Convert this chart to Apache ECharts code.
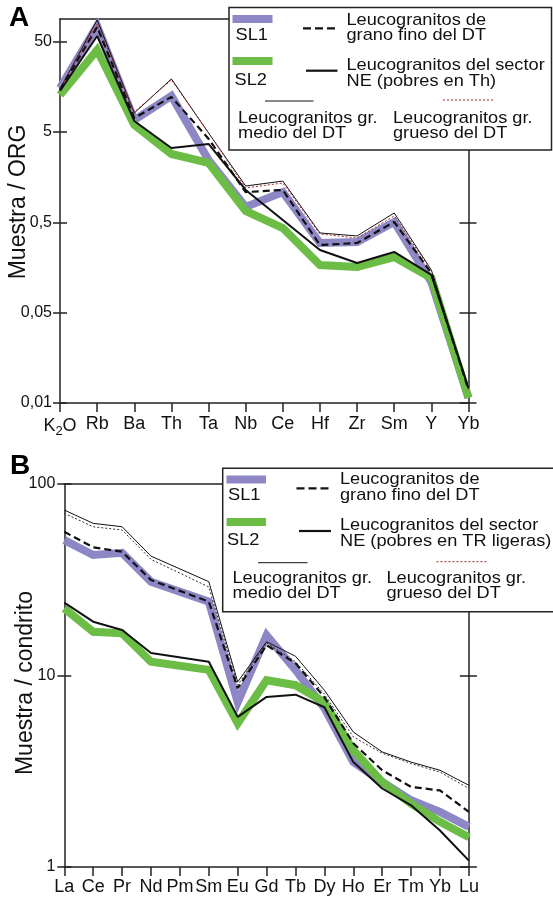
<!DOCTYPE html>
<html><head><meta charset="utf-8">
<script src="https://cdn.jsdelivr.net/npm/echarts@6/dist/echarts.min.js"></script>
<style>html,body{margin:0;padding:0;background:#fff}#c{width:553px;height:899px}</style>
</head><body><div id="c"></div>
<script>
// ---------- DATA ----------
const catsA = ['K2O','Rb','Ba','Th','Ta','Nb','Ce','Hf','Zr','Sm','Y','Yb'];
const sl1A    = [15.3, 74.4, 6.78, 12.5, 2.45, 0.738, 1.08, 0.295, 0.303, 0.504, 0.109, 0.0057];
const sl2A    = [12.8, 40.4, 5.97, 2.85, 2.27, 0.667, 0.432, 0.168, 0.160, 0.206, 0.121, 0.0057];
const neA     = [14.2, 57.7, 6.61, 3.32, 3.68, 1.14, 0.530, 0.247, 0.177, 0.235, 0.131, 0.0073];
const finoA   = [14.6, 72.5, 7.13, 12.2, 4.2, 1.08, 1.14, 0.280, 0.295, 0.504, 0.137, 0.0070];
const medioA  = [14.9, 86.7, 8.10, 19.3, 4.87, 1.26, 1.43, 0.381, 0.353, 0.634, 0.148, 0.0073];
const gruesoA = [15.3, 78.3, 8.31, 18.8, 4.87, 1.20, 1.36, 0.371, 0.335, 0.587, 0.145, 0.0070];
const tickValsA = [0.005, 0.05, 0.5, 5, 50];
const tickLabsA = ['0,01', '0,05', '0,5', '5', '50'];

const catsB = ['La','Ce','Pr','Nd','Pm','Sm','Eu','Gd','Tb','Dy','Ho','Er','Tm','Yb','Lu'];
const sl1B    = [50.9, 42.6, 43.7, 30.9, null, 24.3, 7.25, 16.2, 10.7, 6.75, 3.53, 2.78, 2.23, 1.94, 1.62];
const sl2B    = [22.4, 16.9, 16.6, 11.8, null, 10.7, 5.63, 9.45, 8.90, 7.25, 4.07, 2.78, 2.14, 1.72, 1.43];
const neB     = [24.0, 19.1, 17.3, 13.1, null, 11.8, 6.08, 7.73, 7.94, 6.83, 3.53, 2.57, 2.10, 1.55, 1.08];
const finoB   = [56.3, 46.7, 44.3, 31.5, null, 24.3, 8.58, 14.4, 11.6, 7.70, 4.43, 3.20, 2.62, 2.51, 1.94];
const medioB  = [73.1, 62.3, 59.8, 42.0, null, 30.9, 9.26, 15.0, 12.6, 8.38, 5.07, 3.99, 3.53, 3.20, 2.67];
const gruesoB = [70.3, 59.8, 57.5, 40.4, null, 29.0, 8.90, 14.8, 11.8, 7.99, 4.78, 3.93, 3.47, 3.13, 2.57];
const tickValsB = [1, 10, 100];
const tickLabsB = ['1', '10', '100'];

const legendA = ['SL1', 'SL2', ['Leucogranitos de', 'grano fino del DT'], ['Leucogranitos del sector', 'NE (pobres en Th)'], ['Leucogranitos gr.', 'medio del DT'], ['Leucogranitos gr.', 'grueso del DT']];
const legendB = ['SL1', 'SL2', ['Leucogranitos de', 'grano fino del DT'], ['Leucogranitos del sector', 'NE (pobres en TR ligeras)'], ['Leucogranitos gr.', 'medio del DT'], ['Leucogranitos gr.', 'grueso del DT']];

// ---------- STYLE ----------
const FONT = '"Liberation Sans", Arial, Helvetica, sans-serif';
const PURPLE = '#8e87c6', GREEN = '#6cbd46', RED = '#a8282c', AX = '#222', TXT = '#111';

function labelFor(vals, labs) {
  return v => {
    const i = vals.findIndex(t => Math.abs(Math.log10(t) - Math.log10(v)) < 1e-6);
    return i >= 0 ? labs[i] : '';
  };
}

function yAxes(gi, min, max, vals, labs, margin) {
  const ls = {color: AX, width: 1.5};
  const base = {type: 'log', logBase: 10, gridIndex: gi, min, max,
    splitLine: {show: false}, axisLine: {show: false}, axisTick: {show: false}, axisLabel: {show: false}};
  return [
    Object.assign({}, base, {position: 'left',
      axisLine: {show: true, lineStyle: ls},
      axisTick: {show: true, customValues: vals, length: 7, lineStyle: ls},
      axisLabel: {show: true, customValues: vals, formatter: labelFor(vals, labs), margin,
        fontSize: 16, color: TXT, fontFamily: FONT}}),
    Object.assign({}, base, {position: 'left',
      axisTick: {show: true, inside: true, customValues: vals, length: 7, lineStyle: ls}}),
    Object.assign({}, base, {position: 'right',
      axisLine: {show: true, lineStyle: ls},
      axisTick: {show: true, customValues: vals, length: 8, lineStyle: ls}}),
    Object.assign({}, base, {position: 'right',
      axisTick: {show: true, inside: true, customValues: vals, length: 9, lineStyle: ls}})
  ];
}

function xAxes(gi, cats, margin) {
  const ls = {color: AX, width: 1.5};
  return [
    {type: 'category', gridIndex: gi, data: cats, boundaryGap: false, position: 'bottom',
      axisLine: {lineStyle: ls}, axisTick: {show: true, length: 9, lineStyle: ls, alignWithLabel: true},
      axisLabel: {interval: 0, margin, fontSize: 18, color: TXT, fontFamily: FONT,
        formatter: v => v === 'K2O' ? '{n|K}{s|2}{n|O}' : v,
        rich: {n: {fontSize: 18, fontFamily: FONT, color: TXT},
               s: {fontSize: 13, fontFamily: FONT, color: TXT, verticalAlign: 'bottom', padding: [10, 0, 0, 0]}}},
      splitLine: {show: false}},
    {type: 'category', gridIndex: gi, data: cats, boundaryGap: false, position: 'top',
      axisLine: {lineStyle: ls}, axisTick: {show: false}, axisLabel: {show: false}, splitLine: {show: false}}
  ];
}

function seriesSet(xi, yi, sl1, sl2, fino, ne, medio, grueso, dotColor) {
  const mk = (name, data, lineStyle, z) => ({name, type: 'line', xAxisIndex: xi, yAxisIndex: yi, data,
    symbol: 'none', connectNulls: true, lineStyle, z, silent: true});
  return [
    mk('SL1', sl1, {color: PURPLE, width: 8, join: 'miter', miterLimit: 6}, 2),
    mk('SL2', sl2, {color: GREEN, width: 8, join: 'miter', miterLimit: 6}, 3),
    mk('medio', medio, {color: '#111', width: 1}, 4),
    mk('grueso', grueso, {color: dotColor, width: 1, type: [2, 2]}, 4),
    mk('fino', fino, {color: '#111', width: 2.2, type: [7, 4]}, 5),
    mk('NE', ne, {color: '#111', width: 2}, 5)
  ];
}

function legendGraphic(L, box, rows) {
  const els = [];
  const t = (text, x, y) => els.push({type: 'text', x, y, scaleX: 1.07, z: 102,
    style: {text, fontSize: 17, fontFamily: FONT, fill: TXT, textVerticalAlign: 'middle', textAlign: 'left'}});
  els.push({type: 'rect', z: 100, shape: box, style: {fill: '#fff', stroke: AX, lineWidth: 1.5}});
  els.push({type: 'rect', z: 101, shape: rows.bar1, style: {fill: PURPLE}});
  t(L[0], rows.sl1[0], rows.sl1[1]);
  els.push({type: 'rect', z: 101, shape: rows.bar2, style: {fill: GREEN}});
  t(L[1], rows.sl2[0], rows.sl2[1]);
  els.push({type: 'line', z: 101, shape: rows.dash, style: {stroke: '#111', lineWidth: 2.2, lineDash: [8, 4]}});
  t(L[2][0], rows.finoT[0], rows.finoT[1]); t(L[2][1], rows.finoT[0], rows.finoT[1] + 15.7);
  els.push({type: 'line', z: 101, shape: rows.solid, style: {stroke: '#111', lineWidth: 2.2}});
  t(L[3][0], rows.neT[0], rows.neT[1]); t(L[3][1], rows.neT[0], rows.neT[1] + 16.5);
  els.push({type: 'line', z: 101, shape: rows.thin, style: {stroke: '#111', lineWidth: 1}});
  t(L[4][0], rows.medT[0], rows.medT[1]); t(L[4][1], rows.medT[0], rows.medT[1] + 15.5);
  els.push({type: 'line', z: 101, shape: rows.dot, style: {stroke: RED, lineWidth: 1, lineDash: [2, 2]}});
  t(L[5][0], rows.grT[0], rows.grT[1]); t(L[5][1], rows.grT[0], rows.grT[1] + 15.5);
  return els;
}

const legA = legendGraphic(legendA, {x: 229, y: 7.5, width: 322.5, height: 142.5}, {
  bar1: {x: 232.5, y: 15, width: 40, height: 8}, sl1: [235.5, 35],
  bar2: {x: 232.5, y: 57, width: 40, height: 8}, sl2: [234.5, 80],
  dash: {x1: 303, y1: 28.3, x2: 338, y2: 28.3}, finoT: [346.5, 20],
  solid: {x1: 306, y1: 70.7, x2: 337.5, y2: 70.7}, neT: [346.5, 65],
  thin: {x1: 265, y1: 101, x2: 313.5, y2: 101}, medT: [238, 118.3],
  dot: {x1: 443, y1: 100, x2: 493.5, y2: 100}, grT: [393, 118.3]
});
const legB = legendGraphic(legendB, {x: 222.7, y: 468.3, width: 335, height: 143.4}, {
  bar1: {x: 226.5, y: 475.5, width: 39.5, height: 8}, sl1: [228, 495],
  bar2: {x: 226.5, y: 518, width: 39.5, height: 8}, sl2: [227, 540],
  dash: {x1: 296.5, y1: 488.3, x2: 332, y2: 488.3}, finoT: [340, 479.3],
  solid: {x1: 299, y1: 531, x2: 331, y2: 531}, neT: [340, 525],
  thin: {x1: 258, y1: 562.7, x2: 307.5, y2: 562.7}, medT: [232.5, 578.3],
  dot: {x1: 436.5, y1: 561.7, x2: 487, y2: 561.7}, grT: [386.5, 578.3]
});

const titles = [
  {type: 'text', x: 18.7, y: 202, rotation: Math.PI / 2, z: 50,
    style: {text: 'Muestra / ORG', fontSize: 23, fontFamily: FONT, fill: TXT, textAlign: 'center', textVerticalAlign: 'middle'}},
  {type: 'text', x: 25.3, y: 683, rotation: Math.PI / 2, z: 50,
    style: {text: 'Muestra / condrito', fontSize: 23, fontFamily: FONT, fill: TXT, textAlign: 'center', textVerticalAlign: 'middle'}},
  {type: 'text', x: 9, y: 18, z: 50,
    style: {text: 'A', fontSize: 28, fontWeight: 'bold', fontFamily: FONT, fill: '#000', textAlign: 'left', textVerticalAlign: 'middle'}},
  {type: 'text', x: 10, y: 466, z: 50,
    style: {text: 'B', fontSize: 28, fontWeight: 'bold', fontFamily: FONT, fill: '#000', textAlign: 'left', textVerticalAlign: 'middle'}}
];

const chart = echarts.init(document.getElementById('c'), null, {renderer: 'canvas'});
chart.setOption({
  animation: false,
  backgroundColor: '#fff',
  grid: [
    {left: 60, top: 19, width: 408.5, height: 384, containLabel: false},
    {left: 64.3, top: 484, width: 404.6, height: 383, containLabel: false}
  ],
  xAxis: [].concat(xAxes(0, catsA, 12), xAxes(1, catsB, 11)),
  yAxis: [].concat(yAxes(0, 0.005, 88.9, tickValsA, tickLabsA, 8), yAxes(1, 1, 100, tickValsB, tickLabsB, 9)),
  series: [].concat(
    seriesSet(0, 0, sl1A, sl2A, finoA, neA, medioA, gruesoA, RED),
    seriesSet(2, 4, sl1B, sl2B, finoB, neB, medioB, gruesoB, '#3a2a2a')
  ),
  graphic: [].concat(titles, legA, legB)
});
</script></body></html>
